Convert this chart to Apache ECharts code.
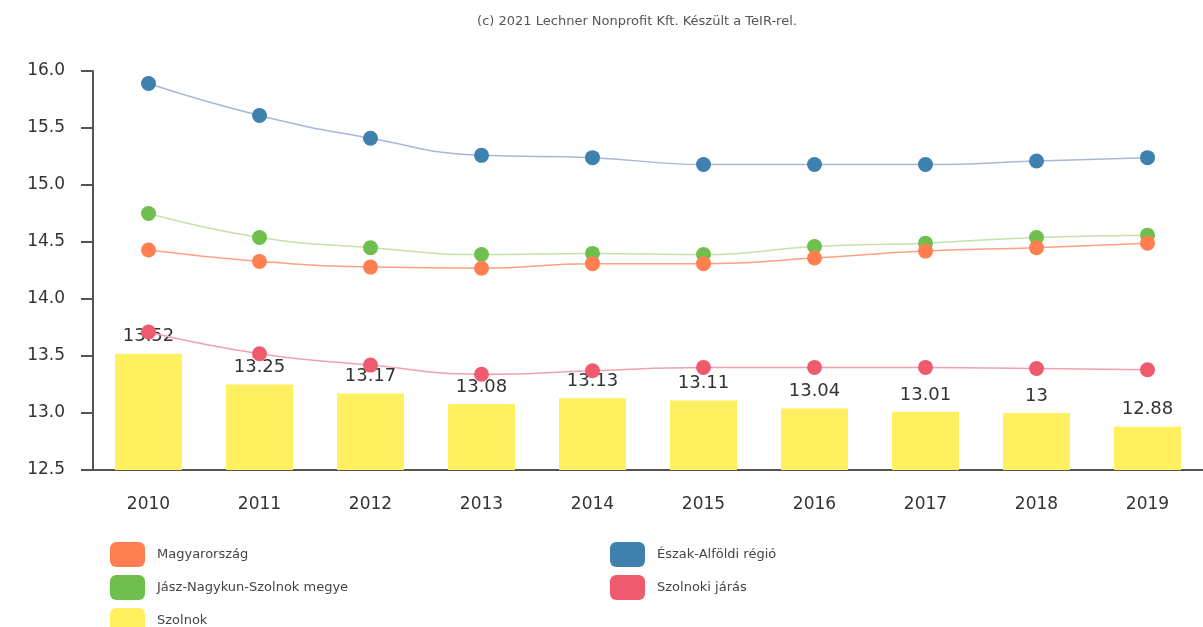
<!DOCTYPE html>
<html>
<head>
<meta charset="utf-8">
<script src="https://cdn.jsdelivr.net/npm/echarts@6/dist/echarts.min.js"></script>
<style>
  html, body { margin: 0; padding: 0; background: #fff; }
  #chart { width: 1203px; height: 627px; }
</style>
</head>
<body>
<div id="chart"></div>
<script>
// évek
var years = ['2010', '2011', '2012', '2013', '2014', '2015', '2016', '2017', '2018', '2019'];
// tengely beosztás
var yTicks = [12.5, 13.0, 13.5, 14.0, 14.5, 15.0, 15.5, 16.0];

// sorozatok
var magyarorszag = [14.43, 14.33, 14.28, 14.27, 14.31, 14.31, 14.36, 14.42, 14.45, 14.49];
var eszakAlfoldi = [15.89, 15.61, 15.41, 15.26, 15.24, 15.18, 15.18, 15.18, 15.21, 15.24];
var jnszMegye = [14.75, 14.54, 14.45, 14.39, 14.40, 14.39, 14.46, 14.49, 14.54, 14.56];
var szolnokiJaras = [13.71, 13.52, 13.42, 13.34, 13.37, 13.40, 13.40, 13.40, 13.39, 13.38];
var szolnok = [13.52, 13.25, 13.17, 13.08, 13.13, 13.11, 13.04, 13.01, 13, 12.88];

var font = 'DejaVu Sans';

function lineSeries(name, data, color, lineColor) {
    return {
        name: name,
        type: 'line',
        smooth: true,
        data: data,
        symbol: 'circle',
        symbolSize: 15,
        itemStyle: { color: color },
        lineStyle: { color: lineColor, width: 1.5 },
        z: 3
    };
}

// jelmagyarázat blokk
function legendBlock(left, top, names) {
    return {
        orient: 'vertical',
        left: left,
        top: top,
        itemWidth: 35,
        itemHeight: 25,
        itemGap: 8,
        icon: 'roundRect',
        textStyle: { fontFamily: font, fontSize: 13, color: '#444', padding: [0, 0, 0, 7] },
        data: names
    };
}

var myChart = echarts.init(document.getElementById('chart'));

var option = {
    animation: false,
    backgroundColor: '#fff',
    title: {
        text: '(c) 2021 Lechner Nonprofit Kft. Készült a TeIR-rel.',
        left: 632,
        textAlign: 'center',
        top: 10,
        textStyle: { fontFamily: font, fontSize: 13, fontWeight: 'normal', color: '#555' }
    },
    legend: [
        legendBlock(105, 537, ['Magyarország', 'Jász-Nagykun-Szolnok megye']),
        legendBlock(105, 603, ['Szolnok']),
        legendBlock(605, 537, ['Észak-Alföldi régió', 'Szolnoki járás'])
    ],
    grid: { left: 93, top: 71, width: 1118, height: 399 },
    xAxis: {
        type: 'category',
        data: years,
        axisLine: { lineStyle: { color: '#555', width: 2 } },
        axisTick: { alignWithLabel: true, length: 10, lineStyle: { color: '#555', width: 2 } },
        axisLabel: { margin: 26, fontFamily: font, fontSize: 17, color: '#333' }
    },
    yAxis: {
        type: 'value',
        min: yTicks[0],
        max: yTicks[yTicks.length - 1],
        interval: 0.5,
        axisLine: { show: true, lineStyle: { color: '#555', width: 2 } },
        axisTick: { show: true, length: 12, inside: false, lineStyle: { color: '#555', width: 2 } },
        splitLine: { show: false },
        axisLabel: {
            margin: 28,
            fontFamily: font,
            fontSize: 17,
            color: '#333',
            formatter: function (v) { return v.toFixed(1); }
        }
    },
    series: [
        {
            name: 'Szolnok',
            type: 'bar',
            data: szolnok,
            barWidth: 67,
            itemStyle: { color: '#FFF060' },
            label: {
                show: true,
                position: 'top',
                distance: 8,
                fontFamily: font,
                fontSize: 18,
                color: '#333'
            },
            z: 2
        },
        lineSeries('Szolnoki járás', szolnokiJaras, '#F05A6E', '#F3A0AE'),
        lineSeries('Jász-Nagykun-Szolnok megye', jnszMegye, '#6FBF4E', '#C2E2A6'),
        lineSeries('Magyarország', magyarorszag, '#FF7F50', '#FFA080'),
        lineSeries('Észak-Alföldi régió', eszakAlfoldi, '#3E80AE', '#A4B8D8')
    ]
};

myChart.setOption(option);
</script>
</body>
</html>
